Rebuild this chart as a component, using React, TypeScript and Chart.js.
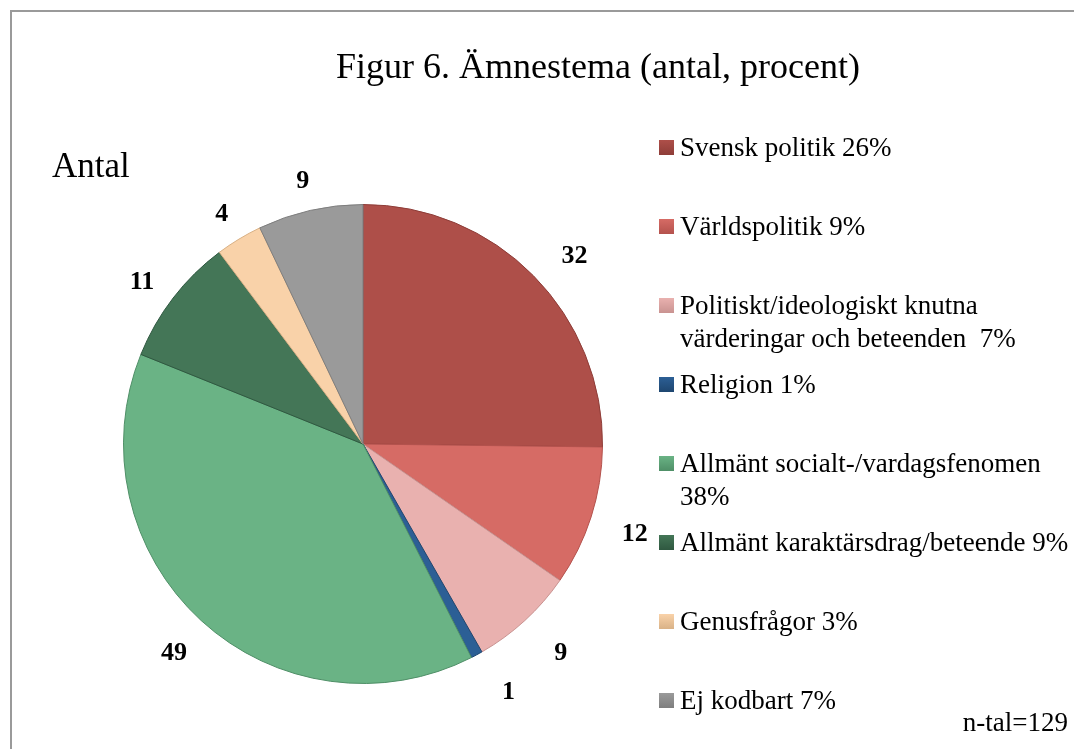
import React, { useEffect, useRef } from "react";
import { Chart, registerables } from "chart.js";

Chart.register(...registerables);

const categories = [
  "Svensk politik",
  "Världspolitik",
  "Politiskt/ideologiskt knutna värderingar och beteenden",
  "Religion",
  "Allmänt socialt-/vardagsfenomen",
  "Allmänt karaktärsdrag/beteende",
  "Genusfrågor",
  "Ej kodbart",
];
const counts = [32, 12, 9, 1, 49, 11, 4, 9];
const percents = [26, 9, 7, 1, 38, 9, 3, 7];
const legendLines = [
  ["Svensk politik 26%"],
  ["Världspolitik 9%"],
  ["Politiskt/ideologiskt knutna", "värderingar och beteenden  7%"],
  ["Religion 1%"],
  ["Allmänt socialt-/vardagsfenomen", "38%"],
  ["Allmänt karaktärsdrag/beteende 9%"],
  ["Genusfrågor 3%"],
  ["Ej kodbart 7%"],
];
const colors = ["#AE4F49", "#D66B65", "#E9B1AF", "#2C5F95", "#6AB385", "#447657", "#F9D2A9", "#9A9A9A"];
const borders = ["#8E3D38", "#B4524D", "#C99391", "#1E4670", "#4F8F67", "#2F5840", "#D9B287", "#7E7E7E"];
const titleText = "Figur 6. Ämnestema (antal, procent)";
const subTitle = "Antal";
const nText = "n-tal=129";

const FONT = '"Liberation Serif", "Times New Roman", serif';

export default function App() {
  const ref = useRef<HTMLCanvasElement>(null);
  useEffect(() => {
    document.body.style.margin = "0";
    const canvas = ref.current!;
    const decor = {
      id: "decor",
      beforeDraw(chart: any) {
        const c = chart.ctx;
        c.save();
        c.fillStyle = "#ffffff";
        c.fillRect(0, 0, chart.width, chart.height);
        c.strokeStyle = "#9a9a9a";
        c.lineWidth = 2;
        c.strokeRect(11, 11, 1200, 900);
        c.restore();
      },
      afterDraw(chart: any) {
        const c = chart.ctx;
        c.save();
        c.fillStyle = "#000";
        c.textBaseline = "alphabetic";
        c.textAlign = "center";
        c.font = `36px ${FONT}`;
        c.fillText(titleText, 598, 78);
        c.textAlign = "left";
        c.font = `35px ${FONT}`;
        c.fillText(subTitle, 52, 177);
        c.font = `27px ${FONT}`;
        c.textAlign = "right";
        c.textBaseline = "middle";
        c.fillText(nText, 1068, 724);

        // legend
        c.textAlign = "left";
        c.textBaseline = "middle";
        legendLines.forEach((lines, i) => {
          const y = 149 + i * 79;
          const g = c.createLinearGradient(0, y - 9, 0, y + 6);
          g.addColorStop(0, colors[i]);
          g.addColorStop(1, borders[i]);
          c.fillStyle = g;
          c.fillRect(659, y - 9, 15, 15);
          c.fillStyle = "#000";
          c.font = `27px ${FONT}`;
          lines.forEach((ln, j) => {
            c.fillText(ln, 680, y + j * 33);
          });
        });

        // data labels (outside end, box-aware placement)
        const meta = chart.getDatasetMeta(0);
        c.font = `bold 26px ${FONT}`;
        c.textAlign = "center";
        c.textBaseline = "middle";
        meta.data.forEach((arc: any, i: number) => {
          const p = arc.getProps(["x", "y", "startAngle", "endAngle", "outerRadius"], true);
          const mid = (p.startAngle + p.endAngle) / 2;
          const dx = Math.cos(mid);
          const dy = Math.sin(mid);
          const txt = String(counts[i]);
          const w = c.measureText(txt).width;
          const h = 18;
          const r = p.outerRadius + 27;
          const x = p.x + dx * r + (dx * w) / 2 + (dx > 0 ? 18 * Math.abs(dy) : 0);
          const y = p.y + dy * r + (dy * h) / 2 + 6;
          c.fillText(txt, x, y);
        });
        c.restore();
      },
    };
    const chart = new Chart(canvas, {
      type: "pie",
      data: {
        labels: categories,
        datasets: [
          {
            data: counts,
            backgroundColor: colors,
            borderColor: borders,
            borderWidth: 1,
          },
        ],
      },
      options: {
        responsive: false,
        animation: false,
        layout: { padding: { left: 123, top: 204, right: 471, bottom: 65 } },
        plugins: {
          legend: { display: false },
          title: { display: false },
          tooltip: { enabled: false },
        },
      },
      plugins: [decor],
    });
    return () => chart.destroy();
  }, []);
  return (
    <div style={{ position: "absolute", left: 0, top: 0, width: 1074, height: 749 }}>
      <canvas ref={ref} width={1074} height={749} />
    </div>
  );
}
